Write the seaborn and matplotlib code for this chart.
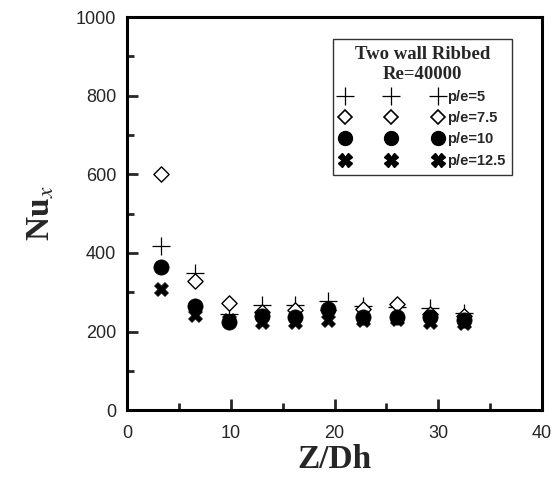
import matplotlib
matplotlib.use("Agg")
import matplotlib.pyplot as plt
from matplotlib.lines import Line2D
from matplotlib.ticker import MultipleLocator
import seaborn as sns
import pandas as pd

z_dh = [3.3, 6.5, 9.8, 13.0, 16.2, 19.4, 22.7, 26.0, 29.2, 32.5]
nu_pe5 = [417, 349, 245, 267, 267, 277, 264, 262, 259, 246]
nu_pe75 = [600, 328, 272, 250, 255, 255, 257, 270, 245, 240]
nu_pe10 = [365, 265, 225, 239, 238, 257, 237, 237, 237, 229]
nu_pe125 = [308, 242, 230, 225, 225, 229, 230, 232, 225, 222]
labels = ["p/e=5", "p/e=7.5", "p/e=10", "p/e=12.5"]
legend_title = "Two wall Ribbed\nRe=40000"

sns.set_theme(style="ticks")
plt.rcParams['font.family'] = ['Liberation Sans', 'DejaVu Sans']
plt.rcParams['mathtext.fontset'] = 'stix'

fig = plt.figure(figsize=(5.58, 4.86), dpi=100)
ax = fig.add_axes([0.228, 0.156, 0.743, 0.809])

styles = [
    dict(marker='+', s=170, facecolor='black', edgecolor='black', linewidth=0.9),
    dict(marker='D', s=60, facecolor='white', edgecolor='black', linewidth=1.0),
    dict(marker='o', s=120, facecolor='black', edgecolor='black', linewidth=0.5),
    dict(marker='X', s=100, facecolor='black', edgecolor='black', linewidth=0.5),
]
series = [nu_pe5, nu_pe75, nu_pe10, nu_pe125]
order = [1, 0, 2, 3]
for i in order:
    df = pd.DataFrame({"x": z_dh, "y": series[i]})
    st = styles[i]
    sns.scatterplot(data=df, x="x", y="y", ax=ax, marker=st['marker'], s=st['s'],
                    color=st['facecolor'], edgecolor=st['edgecolor'],
                    linewidth=st['linewidth'], zorder=3 + i, legend=False)

ax.set_xlim(0, 40)
ax.set_ylim(0, 1000)
ax.xaxis.set_major_locator(MultipleLocator(10))
ax.xaxis.set_minor_locator(MultipleLocator(5))
ax.yaxis.set_major_locator(MultipleLocator(200))
ax.yaxis.set_minor_locator(MultipleLocator(100))
ax.tick_params(which='major', direction='in', length=8, width=2, labelsize=13, pad=8)
ax.tick_params(which='minor', direction='in', length=5, width=2)
ax.tick_params(axis='x', pad=11)
for sp in ax.spines.values():
    sp.set_linewidth(2.2)
    sp.set_color('black')

ax.set_xlabel("Z/Dh", fontsize=24, fontweight='bold', family='Liberation Serif', labelpad=1)
ax.set_ylabel("Nu$_x$", fontsize=24, fontweight='bold', family='Liberation Serif', labelpad=14)

handles = [
    Line2D([], [], linestyle='', marker='+', markersize=12.5, color='black', markeredgewidth=0.9),
    Line2D([], [], linestyle='', marker='D', markersize=7.5, markerfacecolor='white',
           markeredgecolor='black', markeredgewidth=1.2),
    Line2D([], [], linestyle='', marker='o', markersize=10, color='black'),
    Line2D([], [], linestyle='', marker='X', markersize=9.5, color='black'),
]
leg = ax.legend(handles, labels, numpoints=3, loc='upper left', bbox_to_anchor=(0.496, 0.945),
                title=legend_title, frameon=True, fancybox=False, edgecolor='black',
                fontsize=10.5, handlelength=7.0, handletextpad=0.3, borderpad=0.5,
                labelspacing=0.5, borderaxespad=0)
leg.get_frame().set_linewidth(1.0)
plt.setp(leg.get_title(), fontweight='bold', family='Liberation Serif', fontsize=13.5,
         multialignment='center')
for t in leg.get_texts():
    t.set_fontweight('bold')

fig.savefig("out.png", dpi=100)
